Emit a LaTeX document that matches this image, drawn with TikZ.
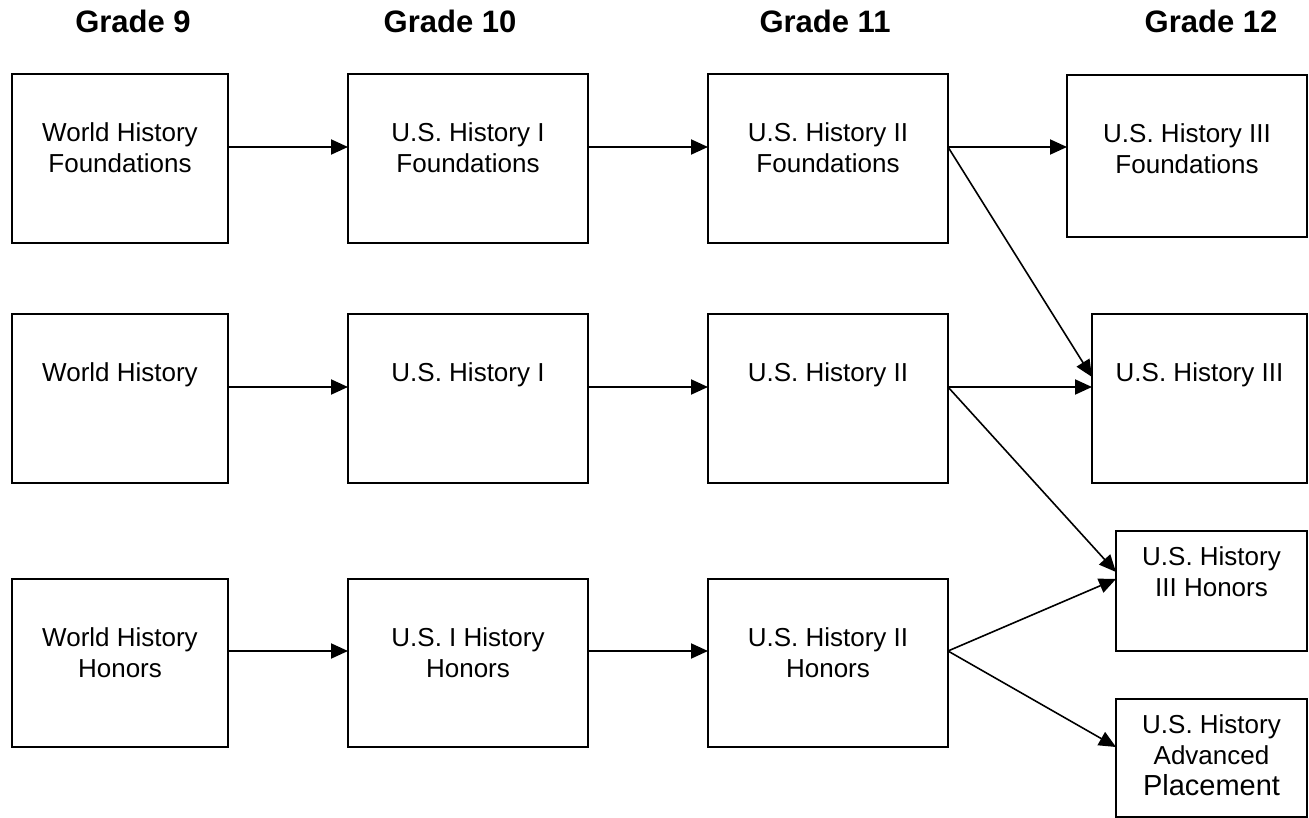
\documentclass[tikz,border=0pt]{standalone}
\usepackage{fontspec}
\setmainfont{Liberation Sans}
\usetikzlibrary{arrows.meta}
\begin{document}
\begin{tikzpicture}[x=1pt,y=-1pt,
  box/.style={draw, line width=2.2pt, rectangle, inner sep=0pt, outer sep=0pt},
  txt/.style={anchor=north, align=center, inner sep=0pt, font=\fontsize{26}{31}\selectfont},
  hdr/.style={anchor=base, inner sep=0pt, font=\fontsize{31}{36}\selectfont\bfseries},
  arr/.style={line width=2pt, -{Triangle[length=17pt,width=15pt]}},
  darr/.style={line width=1.6pt, -{Triangle[length=17pt,width=15pt]}}]
\useasboundingbox (0,0) rectangle (1309,818);
% headers
\node[hdr] (h9)  at (133,33) {Grade 9};
\node[hdr] (h10) at (450,33) {Grade 10};
\node[hdr] (h11) at (825,33) {Grade 11};
\node[hdr] (h12) at (1211,33) {Grade 12};
% row 1
\node[box, minimum width=216pt, minimum height=169pt] (a1) at (120,158.5) {};
\node[box, minimum width=240pt, minimum height=169pt] (a2) at (468,158.5) {};
\node[box, minimum width=240pt, minimum height=169pt] (a3) at (828,158.5) {};
\node[box, minimum width=240pt, minimum height=162pt] (a4) at (1187,156) {};
% row 2
\node[box, minimum width=216pt, minimum height=169pt] (b1) at (120,398.5) {};
\node[box, minimum width=240pt, minimum height=169pt] (b2) at (468,398.5) {};
\node[box, minimum width=240pt, minimum height=169pt] (b3) at (828,398.5) {};
\node[box, minimum width=215pt, minimum height=169pt] (b4) at (1199.5,398.5) {};
% row 3
\node[box, minimum width=216pt, minimum height=168pt] (c1) at (120,663) {};
\node[box, minimum width=240pt, minimum height=168pt] (c2) at (468,663) {};
\node[box, minimum width=240pt, minimum height=168pt] (c3) at (828,663) {};
\node[box, minimum width=191pt, minimum height=120pt] (hon) at (1211.5,591) {};
\node[box, minimum width=191pt, minimum height=118pt] (ap) at (1211.5,758) {};
% texts
\node[txt] (ta1) at ([yshift=-45.3pt]a1.north) {\strut World History\\Foundations};
\node[txt] (ta2) at ([yshift=-45.3pt]a2.north) {\strut U.S. History I\\Foundations};
\node[txt] (ta3) at ([yshift=-45.3pt]a3.north) {\strut U.S. History II\\Foundations};
\node[txt] (ta4) at ([yshift=-45.3pt]a4.north) {\strut U.S. History III\\Foundations};
\node[txt] (tb1) at ([yshift=-45.3pt]b1.north) {\strut World History};
\node[txt] (tb2) at ([yshift=-45.3pt]b2.north) {\strut U.S. History I};
\node[txt] (tb3) at ([yshift=-45.3pt]b3.north) {\strut U.S. History II};
\node[txt] (tb4) at ([yshift=-45.3pt]b4.north) {\strut U.S. History III};
\node[txt] (tc1) at ([yshift=-45.3pt]c1.north) {\strut World History\\Honors};
\node[txt] (tc2) at ([yshift=-45.3pt]c2.north) {\strut U.S. I History\\Honors};
\node[txt] (tc3) at ([yshift=-45.3pt]c3.north) {\strut U.S. History II\\Honors};
\node[txt] (thon) at ([yshift=-12.3pt]hon.north) {\strut U.S. History\\III Honors};
\node[txt] (tap) at ([yshift=-12.3pt]ap.north) {\strut U.S. History\\Advanced\\{\fontsize{29}{32}\selectfont Placement}};
% row arrows
\draw[arr] (a1.east |- 0,147) -- (a2.west |- 0,147);
\draw[arr] (a2.east |- 0,147) -- (a3.west |- 0,147);
\draw[arr] (a3.east |- 0,147) -- (a4.west |- 0,147);
\draw[arr] (b1.east |- 0,387) -- (b2.west |- 0,387);
\draw[arr] (b2.east |- 0,387) -- (b3.west |- 0,387);
\draw[arr] (b3.east |- 0,387) -- (b4.west |- 0,387);
\draw[arr] (c1.east |- 0,651) -- (c2.west |- 0,651);
\draw[arr] (c2.east |- 0,651) -- (c3.west |- 0,651);
% diagonals
\draw[darr] (a3.east |- 0,147) -- (b4.west |- 0,377);
\draw[darr] (b3.east |- 0,387) -- (hon.west |- 0,572);
\draw[darr] (c3.east |- 0,651) -- (hon.west |- 0,579);
\draw[darr] (c3.east |- 0,651) -- (ap.west |- 0,747);
\end{tikzpicture}
\end{document}
